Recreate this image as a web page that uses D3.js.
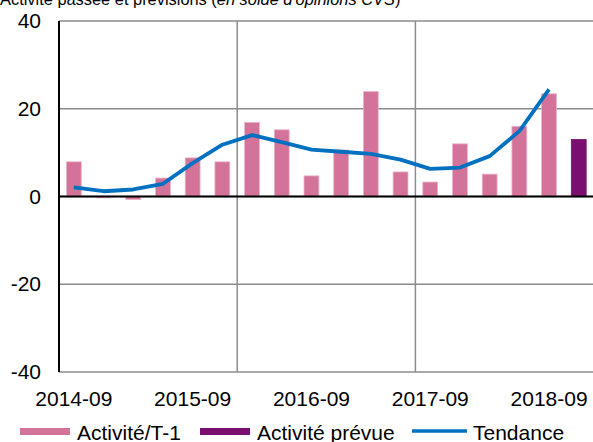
<!DOCTYPE html>
<html>
<head>
<meta charset="utf-8">
<script src="https://cdn.jsdelivr.net/npm/d3@7"></script>
<style>
  body { margin: 0; background: #fff; }
  svg { display: block; font-family: "Liberation Sans", Arial, sans-serif; }
</style>
</head>
<body>
<svg id="chart" width="593" height="442"></svg>
<script>
// quarters, from 2014-09 to 2018-12 (last one = forecast)
const quarters = ["2014-09","2014-12","2015-03","2015-06","2015-09","2015-12","2016-03","2016-06",
  "2016-09","2016-12","2017-03","2017-06","2017-09","2017-12","2018-03","2018-06","2018-09","2018-12"]
const activite = [7.9, -0.3, -0.7, 4.2, 8.8, 7.9, 16.9, 15.2, 4.7, 10.6, 23.9, 5.6, 3.3, 12.0, 5.1, 16.0, 23.4, null]
const prevue = [null, null, null, null, null, null, null, null, null, null, null, null, null, null, null, null, null, 13.0]
const tendance = [2.1, 1.2, 1.6, 2.9, 7.6, 11.8, 14.0, 12.4, 10.7, 10.2, 9.7, 8.4, 6.3, 6.6, 9.2, 14.9, 24.4, null]
const yTicks = [-40, -20, 0, 20, 40]
const xTickLabels = ["2014-09", "2015-09", "2016-09", "2017-09", "2018-09"]
const gridEvery = 6

const pink = "#d4739a", purple = "#7b0f6f", blue = "#0070c0", grey = "#8c8c8c"

const svg = d3.select("#chart")
const plotL = 59, plotR = 593.6, plotT = 21, plotB = 372

const x = d3.scaleBand().domain(quarters).range([plotL, plotR]).padding(0)
const y = d3.scaleLinear().domain([-40, 40]).range([plotB, plotT])
const bw = x.bandwidth()

// horizontal grid
svg.append("g").selectAll("line.hgrid")
  .data(yTicks)
  .enter().append("line")
  .attr("class", "hgrid")
  .attr("x1", plotL).attr("x2", plotR)
  .attr("y1", d => y(d)).attr("y2", d => y(d))
  .attr("stroke", grey).attr("stroke-width", 1.5)

// vertical grid every 6 quarters
svg.append("g").selectAll("line.vgrid")
  .data(quarters.filter((q, i) => i > 0 && i % gridEvery == 0))
  .enter().append("line")
  .attr("class", "vgrid")
  .attr("x1", d => x(d)).attr("x2", d => x(d))
  .attr("y1", plotT).attr("y2", plotB)
  .attr("stroke", grey).attr("stroke-width", 1.5)

// bars
function bars(values, colour, stroke) {
  svg.append("g").selectAll("rect")
    .data(quarters.map((q, i) => ({ q: q, v: values[i] })).filter(d => d.v != null))
    .enter().append("rect")
    .attr("x", d => x(d.q) + bw * 0.25)
    .attr("width", bw * 0.5)
    .attr("y", d => y(Math.max(0, d.v)))
    .attr("height", d => Math.abs(y(d.v) - y(0)))
    .attr("fill", colour)
    .attr("stroke", stroke)
    .attr("stroke-width", 0.8)
}
bars(activite, pink, "#eab3c8")
bars(prevue, purple, purple)

// zero line and left axis
svg.append("line")
  .attr("x1", plotL).attr("x2", plotR)
  .attr("y1", y(0)).attr("y2", y(0))
  .attr("stroke", "#000").attr("stroke-width", 2)
svg.append("line")
  .attr("x1", plotL).attr("x2", plotL)
  .attr("y1", plotT).attr("y2", plotB)
  .attr("stroke", "#000").attr("stroke-width", 2)

// trend line
const line = d3.line()
  .defined(d => d.v != null)
  .x(d => x(d.q) + bw / 2)
  .y(d => y(d.v))
svg.append("path")
  .attr("d", line(quarters.map((q, i) => ({ q: q, v: tendance[i] }))))
  .attr("fill", "none")
  .attr("stroke", blue)
  .attr("stroke-width", 3.8)
  .attr("stroke-linejoin", "round")

// axes (labels only), plain hyphen for negatives like the original
const yAxis = d3.axisLeft(y).tickValues(yTicks).tickFormat(d => String(d)).tickSize(0).tickPadding(18)
const gy = svg.append("g").attr("transform", `translate(${plotL},0)`).call(yAxis)
gy.select(".domain").remove()
gy.selectAll("text").attr("font-size", 21).attr("fill", "#000").attr("font-family", null)

const xAxis = d3.axisBottom(x)
  .tickValues(xTickLabels)
  .tickSize(0).tickPadding(19)
const gx = svg.append("g").attr("transform", `translate(0,${plotB})`).call(xAxis)
gx.select(".domain").remove()
gx.selectAll("text").attr("font-size", 21).attr("fill", "#000").attr("font-family", null)

// title (cut off at top in the original)
const title = svg.append("text").attr("x", 0).attr("y", 5).attr("font-size", 16.4)
title.append("tspan").text("Activité passée et prévisions (")
title.append("tspan").attr("font-style", "italic").text("en solde d'opinions CVS")
title.append("tspan").text(")")

// legend
const legend = svg.append("g").attr("font-size", 21)
legend.append("rect").attr("x", 20).attr("y", 428).attr("width", 50).attr("height", 7).attr("fill", pink)
legend.append("text").attr("x", 77).attr("y", 440).text("Activité/T-1")
legend.append("rect").attr("x", 200).attr("y", 428).attr("width", 50).attr("height", 7).attr("fill", purple)
legend.append("text").attr("x", 257).attr("y", 440).text("Activité prévue")
legend.append("line").attr("x1", 412).attr("x2", 467).attr("y1", 431).attr("y2", 431)
  .attr("stroke", blue).attr("stroke-width", 3.5)
legend.append("text").attr("x", 473).attr("y", 440).text("Tendance")
</script>
</body>
</html>
